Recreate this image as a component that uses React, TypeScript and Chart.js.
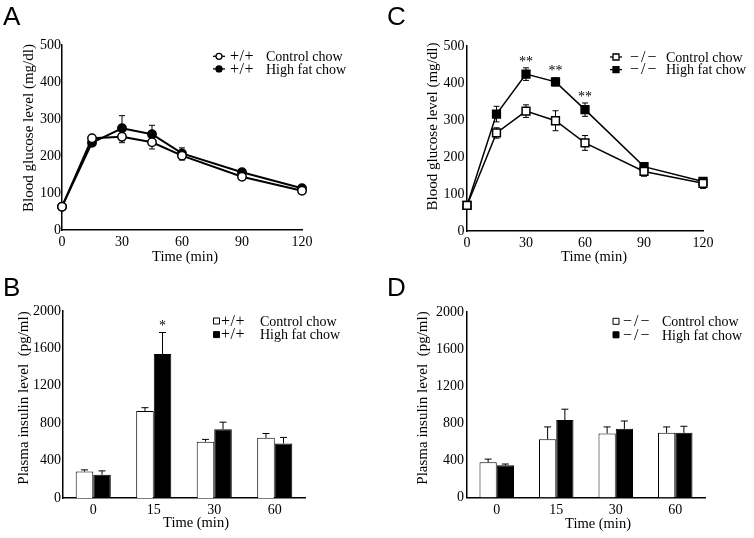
import React, { useEffect, useRef } from "react";
import { Chart, registerables } from "chart.js";

Chart.register(...registerables);

// ---------------- data ----------------
const glucoseTimes = [0, 15, 30, 45, 60, 90, 120];
const seriesNames = ["Control chow", "High fat chow"];

// Panel A (+/+) blood glucose (mg/dl)
const wtControlGlucose = [63, 248, 252, 237, 201, 144, 106];
const wtControlGlucoseErr = [5, 6, 16, 18, 12, 6, 6];
const wtHighFatGlucose = [63, 236, 275, 259, 207, 156, 113];
const wtHighFatGlucoseErr = [5, 6, 34, 24, 15, 6, 6];
const wtGlucoseSig = ["", "", "", "", "", "", ""];

// Panel C (-/-) blood glucose (mg/dl)
const koControlGlucose = [69, 265, 324, 298, 238, 161, 129];
const koControlGlucoseErr = [6, 14, 17, 27, 20, 13, 14];
const koHighFatGlucose = [69, 316, 424, 403, 328, 174, 134];
const koHighFatGlucoseErr = [6, 21, 17, 11, 18, 8, 8];
const koGlucoseSig = ["", "", "**", "**", "**", "", ""];

// Insulin panels
const insulinTimeLabels = ["0", "15", "30", "60"];

// Panel B (+/+) plasma insulin (pg/ml)
const wtControlInsulin = [283, 931, 602, 644];
const wtControlInsulinErr = [18, 35, 25, 46];
const wtHighFatInsulin = [248, 1540, 736, 584];
const wtHighFatInsulinErr = [42, 230, 75, 64];
const wtInsulinSig = ["", "*", "", ""];

// Panel D (-/-) plasma insulin (pg/ml)
const koControlInsulin = [379, 627, 690, 697];
const koControlInsulinErr = [35, 134, 71, 64];
const koHighFatInsulin = [347, 835, 740, 697];
const koHighFatInsulinErr = [14, 117, 85, 71];
const koInsulinSig = ["", "", "", ""];

// ---------------- styling ----------------
const SERIF = '"Liberation Serif", "Times New Roman", serif';
const SANS = '"Liberation Sans", Arial, sans-serif';
const W = 377;
const H = 269;

type PanelCfg = {
  letter: string;
  kind: "line" | "bar";
  pos: [number, number];
  area: { l: number; t: number; r: number; b: number };
  yMax: number;
  yStep: number;
  yTitle: string;
  yTitlePos: [number, number];
  xTitlePos: [number, number];
  letterPos: [number, number];
  genotype: string;
  genoSpacing: number;
  values: number[][];
  errors: number[][];
  sig: string[];
  legend: { marker: number; geno: number; label: number; rows: [number, number] };
  yTickPad: number;
  pointStyle?: "circle" | "rect";
  pointRadius?: number;
  lineWidth?: number;
  markerShape: "circle" | "square" | "box";
};

const panels: PanelCfg[] = [
  {
    letter: "A",
    kind: "line",
    pos: [0, 0],
    area: { l: 62, t: 45, r: 302, b: 230 },
    yMax: 500,
    yStep: 100,
    yTitle: "Blood glucose level (mg/dl)",
    yTitlePos: [29, 128],
    xTitlePos: [185, 257],
    letterPos: [3, 25],
    genotype: "+/+",
    genoSpacing: 0.5,
    values: [wtControlGlucose, wtHighFatGlucose],
    errors: [wtControlGlucoseErr, wtHighFatGlucoseErr],
    sig: wtGlucoseSig,
    legend: { marker: 219, geno: 230, label: 266, rows: [61, 73.6] },
    yTickPad: 1,
    pointStyle: "circle",
    pointRadius: 4.2,
    lineWidth: 2,
    markerShape: "circle",
  },
  {
    letter: "C",
    kind: "line",
    pos: [377, 0],
    area: { l: 90, t: 46, r: 326, b: 231 },
    yMax: 500,
    yStep: 100,
    yTitle: "Blood glucose level (mg/dl)",
    yTitlePos: [56, 126.5],
    xTitlePos: [217, 257],
    letterPos: [10, 25],
    genotype: "\u2212/\u2212",
    genoSpacing: 2,
    values: [koControlGlucose, koHighFatGlucose],
    errors: [koControlGlucoseErr, koHighFatGlucoseErr],
    sig: koGlucoseSig,
    legend: { marker: 239, geno: 253, label: 289, rows: [61.7, 74.3] },
    yTickPad: 2.5,
    pointStyle: "rect",
    pointRadius: 5.5,
    lineWidth: 1.5,
    markerShape: "square",
  },
  {
    letter: "B",
    kind: "bar",
    pos: [0, 269],
    area: { l: 63, t: 42, r: 305, b: 229 },
    yMax: 2000,
    yStep: 400,
    yTitle: "Plasma insulin level  (pg/ml)",
    yTitlePos: [24, 129],
    xTitlePos: [196, 254],
    letterPos: [3, 27],
    genotype: "+/+",
    genoSpacing: 0.5,
    values: [wtControlInsulin, wtHighFatInsulin],
    errors: [wtControlInsulinErr, wtHighFatInsulinErr],
    sig: wtInsulinSig,
    legend: { marker: 216.5, geno: 221, label: 260, rows: [56.7, 70.3] },
    yTickPad: 2,
    markerShape: "box",
  },
  {
    letter: "D",
    kind: "bar",
    pos: [377, 269],
    area: { l: 90, t: 43, r: 328, b: 228.5 },
    yMax: 2000,
    yStep: 400,
    yTitle: "Plasma insulin level  (pg/ml)",
    yTitlePos: [46.5, 129],
    xTitlePos: [221, 255.5],
    letterPos: [10, 27],
    genotype: "\u2212/\u2212",
    genoSpacing: 2,
    values: [koControlInsulin, koHighFatInsulin],
    errors: [koControlInsulinErr, koHighFatInsulinErr],
    sig: koInsulinSig,
    legend: { marker: 239, geno: 246, label: 285, rows: [57, 70.5] },
    yTickPad: 3,
    markerShape: "box",
  },
];

function makeDeco(cfg: PanelCfg) {
  const drawErrors = (chart: any) => {
    const ctx = chart.ctx;
    const yScale = chart.scales.y;
    const upOnly = cfg.kind === "bar";
    const cap = upOnly ? 3.5 : 3;
    ctx.save();
    ctx.strokeStyle = "#000";
    ctx.lineWidth = 1;
    cfg.values.forEach((vals, di) => {
      const meta = chart.getDatasetMeta(di);
      vals.forEach((v, i) => {
        const el = meta.data[i];
        if (!el) return;
        const e = cfg.errors[di][i];
        const x = el.x;
        const top = yScale.getPixelForValue(v + e);
        const bot = upOnly ? el.y : yScale.getPixelForValue(v - e);
        ctx.beginPath();
        ctx.moveTo(x, bot);
        ctx.lineTo(x, top);
        ctx.moveTo(x - cap, top);
        ctx.lineTo(x + cap, top);
        if (!upOnly) {
          ctx.moveTo(x - cap, bot);
          ctx.lineTo(x + cap, bot);
        }
        ctx.stroke();
      });
    });
    ctx.restore();
  };

  return {
    id: "deco" + cfg.letter,
    beforeDatasetsDraw(chart: any) {
      if (cfg.kind === "line") drawErrors(chart);
    },
    afterDatasetsDraw(chart: any) {
      if (cfg.kind === "bar") drawErrors(chart);
    },
    afterDraw(chart: any) {
      const ctx = chart.ctx;
      const yScale = chart.scales.y;
      ctx.save();
      ctx.fillStyle = "#000";
      ctx.strokeStyle = "#000";

      // panel letter
      ctx.font = `26px ${SANS}`;
      ctx.textAlign = "left";
      ctx.textBaseline = "alphabetic";
      ctx.fillText(cfg.letter, cfg.letterPos[0], cfg.letterPos[1]);

      // x title
      ctx.font = `14.5px ${SERIF}`;
      ctx.textAlign = "center";
      ctx.textBaseline = "middle";
      ctx.fillText("Time (min)", cfg.xTitlePos[0], cfg.xTitlePos[1]);

      // y title
      ctx.save();
      ctx.translate(cfg.yTitlePos[0], cfg.yTitlePos[1]);
      ctx.rotate(-Math.PI / 2);
      ctx.font = `15px ${SERIF}`;
      ctx.fillText(cfg.yTitle, 0, 0);
      ctx.restore();

      // legend
      const lg = cfg.legend;
      seriesNames.forEach((name, di) => {
        const base = lg.rows[di];
        const cy = base - 4.7;
        const filled = di === 1;
        ctx.lineWidth = 1.3;
        if (cfg.markerShape === "circle" || cfg.markerShape === "square") {
          ctx.beginPath();
          ctx.moveTo(lg.marker - 6, cy);
          ctx.lineTo(lg.marker + 6, cy);
          ctx.stroke();
          ctx.beginPath();
          if (cfg.markerShape === "circle") ctx.arc(lg.marker, cy, 3, 0, Math.PI * 2);
          else ctx.rect(lg.marker - 3, cy - 3, 6, 6);
          ctx.fillStyle = filled ? "#000" : "#fff";
          ctx.fill();
          ctx.stroke();
        } else {
          ctx.lineWidth = 1;
          ctx.beginPath();
          ctx.rect(lg.marker - 3, cy - 3, 6, 6);
          ctx.fillStyle = filled ? "#000" : "#fff";
          ctx.fill();
          ctx.stroke();
        }
        ctx.fillStyle = "#000";
        ctx.textAlign = "left";
        ctx.textBaseline = "alphabetic";
        ctx.font = `16px ${SERIF}`;
        (ctx as any).letterSpacing = `${cfg.genoSpacing}px`;
        ctx.fillText(cfg.genotype, lg.geno, base);
        (ctx as any).letterSpacing = "0px";
        ctx.font = `14px ${SERIF}`;
        ctx.fillText(name, lg.label, base);
      });

      // significance marks above the high-fat series
      const metaHF = chart.getDatasetMeta(1);
      ctx.font = `14px ${SERIF}`;
      ctx.textAlign = "center";
      ctx.textBaseline = "middle";
      cfg.sig.forEach((s, i) => {
        if (!s) return;
        const el = metaHF.data[i];
        const y = yScale.getPixelForValue(cfg.values[1][i] + cfg.errors[1][i]) - 6;
        ctx.fillText(s, el.x, y);
      });
      ctx.restore();
    },
  };
}

function buildConfig(cfg: PanelCfg): any {
  const isLine = cfg.kind === "line";
  const tickFont = { family: SERIF, size: 14 };
  const plain = (v: any) => String(v);
  const datasets = cfg.values.map((vals, di) => {
    const filled = di === 1;
    if (isLine) {
      return {
        label: seriesNames[di],
        data: glucoseTimes.map((t, i) => ({ x: t, y: vals[i] })),
        borderColor: "#000",
        borderWidth: cfg.lineWidth,
        pointStyle: cfg.pointStyle,
        pointRadius: cfg.pointRadius,
        pointBorderWidth: 1.5,
        pointBackgroundColor: filled ? "#000" : "#fff",
        pointBorderColor: "#000",
        tension: 0,
        fill: false,
        clip: false,
      };
    }
    return {
      label: seriesNames[di],
      data: vals,
      backgroundColor: filled ? "#000" : "#fff",
      borderColor: "#000",
      borderWidth: 1,
      barPercentage: 1,
      categoryPercentage: 0.58,
    };
  });

  const xScale: any = isLine
    ? {
        type: "linear",
        min: 0,
        max: 120,
        ticks: { stepSize: 30, padding: 4, font: tickFont, color: "#000", callback: plain },
      }
    : {
        type: "category",
        offset: true,
        ticks: { padding: 4, font: tickFont, color: "#000" },
      };
  xScale.grid = { display: false, drawTicks: false };
  xScale.border = { display: true, color: "#000", width: 1.5 };
  xScale.afterFit = (s: any) => {
    s.height = H - cfg.area.b;
  };

  return {
    type: isLine ? "line" : "bar",
    data: {
      labels: isLine ? undefined : insulinTimeLabels,
      datasets,
    },
    options: {
      animation: false,
      responsive: false,
      devicePixelRatio: 1,
      layout: {
        padding: { left: 0, top: cfg.area.t, right: W - cfg.area.r, bottom: 0 },
      },
      plugins: {
        legend: { display: false },
        tooltip: { enabled: false },
        title: { display: false },
      },
      scales: {
        x: xScale,
        y: {
          min: 0,
          max: cfg.yMax,
          ticks: {
            stepSize: cfg.yStep,
            padding: cfg.yTickPad,
            font: tickFont,
            color: "#000",
            callback: plain,
          },
          grid: { display: false, drawTicks: false },
          border: { display: true, color: "#000", width: 1.5 },
          afterFit: (s: any) => {
            s.width = cfg.area.l;
          },
        },
      },
    },
    plugins: [makeDeco(cfg)],
  };
}

function Panel({ cfg }: { cfg: PanelCfg }) {
  const ref = useRef<HTMLCanvasElement | null>(null);
  useEffect(() => {
    if (!ref.current) return;
    const chart = new Chart(ref.current, buildConfig(cfg));
    return () => chart.destroy();
  }, [cfg]);
  return (
    <canvas
      ref={ref}
      width={W}
      height={H}
      style={{ position: "absolute", left: cfg.pos[0], top: cfg.pos[1], width: W, height: H }}
    />
  );
}

export default function App() {
  return (
    <div
      style={{
        position: "absolute",
        left: 0,
        top: 0,
        width: 754,
        height: 538,
        background: "#fff",
        overflow: "hidden",
      }}
    >
      {panels.map((p) => (
        <Panel key={p.letter} cfg={p} />
      ))}
    </div>
  );
}
